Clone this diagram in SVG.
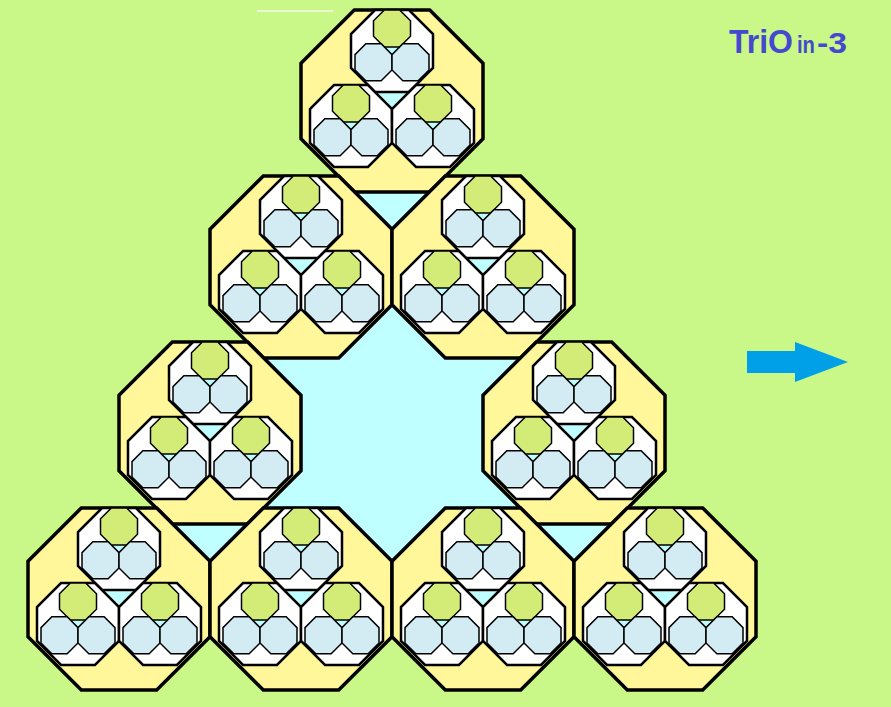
<svg xmlns="http://www.w3.org/2000/svg" xmlns:xlink="http://www.w3.org/1999/xlink" width="891" height="707" viewBox="0 0 891 707">
<style>
.yel{fill:#FFF799;stroke:#000;stroke-width:3.5;stroke-linejoin:miter}
.wht{fill:#FFFFFF;stroke:#000;stroke-width:2.5}
.grn{fill:#D3EC78;stroke:#000;stroke-width:1.5}
.blu{fill:#D3EBF3;stroke:#000;stroke-width:1.5}
.cy{fill:#BFFFFF;stroke:none}
.ttl{font-family:"Liberation Sans",Arial,sans-serif;font-weight:bold;fill:#4549CF}
</style>
<defs>
<polygon id="octY" points="-37.69,-91 37.69,-91 91,-37.69 91,37.69 37.69,91 -37.69,91 -91,37.69 -91,-37.69"/>
<polygon id="octW" points="-16.98,-41 16.98,-41 41,-16.98 41,16.98 16.98,41 -16.98,41 -41,16.98 -41,-16.98"/>
<polygon id="octS" points="-7.66,-18.5 7.66,-18.5 18.5,-7.66 18.5,7.66 7.66,18.5 -7.66,18.5 -18.5,7.66 -18.5,-7.66"/>
<g id="trio">
<use xlink:href="#octW" class="wht"/>
<polygon class="cy" points="-7.7,-4 7.7,-4 0,3.7"/>
<use xlink:href="#octS" class="grn" x="0" y="-22.5"/>
<use xlink:href="#octS" class="blu" x="-18.5" y="11.3"/>
<use xlink:href="#octS" class="blu" x="18.5" y="11.3"/>
</g>
<g id="big">
<use xlink:href="#octY" class="yel"/>
<polygon class="cy" points="-17,-9 17,-9 0,8"/>
<use xlink:href="#trio" x="0" y="-50"/>
<use xlink:href="#trio" x="-41" y="25"/>
<use xlink:href="#trio" x="41" y="25"/>
</g>
</defs>
<rect x="0" y="0" width="891" height="707" fill="#C9F888"/>
<line x1="257" y1="11" x2="333" y2="11" stroke="#FFFFFF" stroke-width="1.5" opacity="0.8"/>
<g id="gaps">
<polygon class="cy" points="392,304.7 445.3,358 520.3,358 483,395.3 483,470.7 520.3,508 445.3,508 392,561.3 338.7,508 263.7,508 301,470.7 301,395.3 263.7,358 338.7,358"/>
<polygon class="cy" points="354.7,192 429.3,192 392,229.3"/>
<polygon class="cy" points="172.7,524 247.3,524 210,561.3"/>
<polygon class="cy" points="536.7,524 611.3,524 574,561.3"/>
</g>
<g id="node-top"><use xlink:href="#big" transform="translate(392,101)"/></g>
<g id="node-r2-left"><use xlink:href="#big" transform="translate(301,267)"/></g>
<g id="node-r2-right"><use xlink:href="#big" transform="translate(483,267)"/></g>
<g id="node-r3-left"><use xlink:href="#big" transform="translate(210,433)"/></g>
<g id="node-r3-right"><use xlink:href="#big" transform="translate(574,433)"/></g>
<g id="node-r4-1"><use xlink:href="#big" transform="translate(119,599)"/></g>
<g id="node-r4-2"><use xlink:href="#big" transform="translate(301,599)"/></g>
<g id="node-r4-3"><use xlink:href="#big" transform="translate(483,599)"/></g>
<g id="node-r4-4"><use xlink:href="#big" transform="translate(665,599)"/></g>
<g id="connectors">
<polygon id="arrow" points="747,351 795,351 795,342 848,362 795,382 795,373 747,373" fill="#00A0E8"/>
</g>
<g id="title">
<text class="ttl" x="729" y="53" font-size="34" textLength="64" lengthAdjust="spacingAndGlyphs">TriO</text>
<text class="ttl" x="797" y="53" font-size="23" textLength="18" lengthAdjust="spacingAndGlyphs">in</text>
<text class="ttl" x="817" y="53" font-size="30" textLength="30" lengthAdjust="spacingAndGlyphs">-3</text>
</g>
</svg>
